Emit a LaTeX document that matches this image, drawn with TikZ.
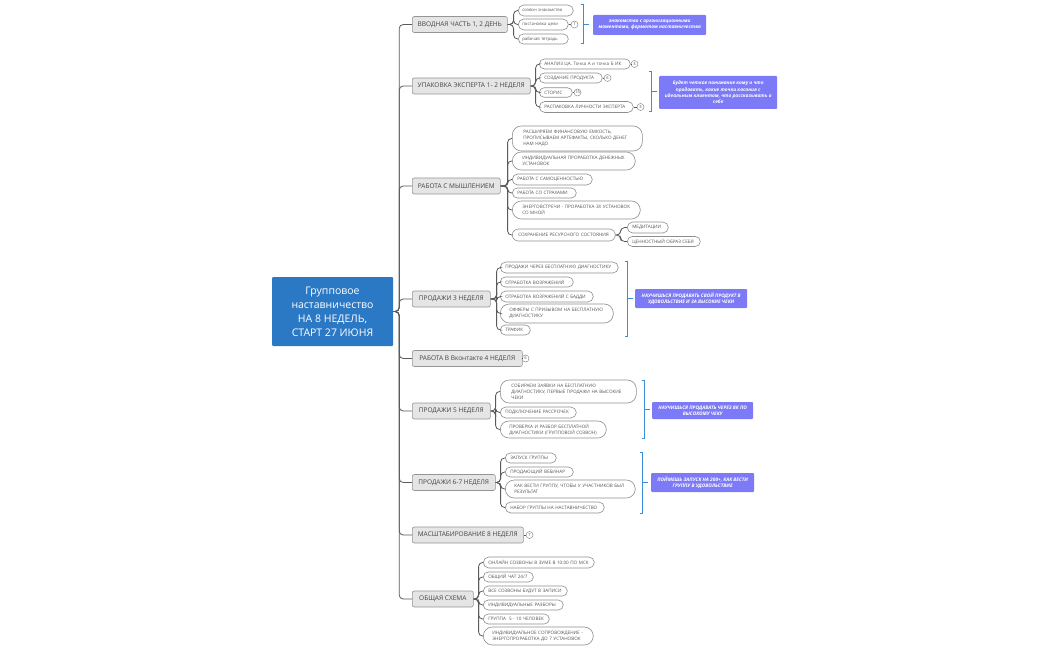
\documentclass[tikz,border=0pt]{standalone}
\usepackage{fontspec}
\setmainfont{Open Sans}
\definecolor{rootc}{HTML}{2B78C5}
\definecolor{topfill}{HTML}{E5E5E5}
\definecolor{topdraw}{HTML}{959595}
\definecolor{subdraw}{HTML}{8E8E8E}
\definecolor{linec}{HTML}{5A5A5A}
\definecolor{txtc}{HTML}{444444}
\definecolor{subtxt}{HTML}{555555}
\definecolor{brkc}{HTML}{3B8FD8}
\definecolor{notec}{HTML}{7C7AF6}
\newcommand\mysub[7]{%
  \pgfmathsetmacro\mytw{#3-#2-2*#6}%
  \pgfmathsetmacro\myrc{min(#5/2,9)}%
  \node[sub, anchor=west, inner xsep=#6pt, text width=\mytw pt, minimum height=#5pt, rounded corners=\myrc pt] (#1) at (#2,#4) {#7};}
\newcommand\mytopic[5]{%
  \node[topic, anchor=west, minimum width=#3pt] (#1) at (#2,#4) {#5};}
\newcommand\mybrk[4]{% x, ytop, ybottom, ymid
  \draw[brk] (#1-2.5,#2) -- (#1,#2) -- (#1,#3) -- (#1-2.5,#3);
  \draw[brk] (#1,#4) -- (#1+6,#4);}
\begin{document}
\begin{tikzpicture}[x=1pt,y=-1pt,
  conn/.style={draw=linec, line width=0.8pt, rounded corners=4pt},
  root/.style={fill=rootc, text=white, minimum width=121pt, minimum height=69pt, inner sep=0pt, align=center, rounded corners=1pt, font=\fontsize{10.5}{14}\selectfont},
  topic/.style={draw=topdraw, fill=topfill, line width=0.6pt, rounded corners=2pt, minimum height=16pt, inner xsep=2pt, inner ysep=0pt, text=txtc, font=\fontsize{6.5}{7.5}\selectfont},
  sub/.style={draw=subdraw, fill=white, line width=0.6pt, inner ysep=0pt, align=left, text=subtxt, font=\fontsize{4.6}{6}\selectfont},
  num/.style={circle, draw=subdraw, fill=white, line width=0.5pt, inner sep=0pt, minimum size=7pt, text=txtc, font=\fontsize{4}{4}\selectfont},
  brk/.style={draw=brkc, line width=1pt},
  note/.style={fill=notec, text=white, anchor=west, rounded corners=1pt, inner sep=1pt, align=center, font=\fontsize{4.8}{6.3}\selectfont\bfseries\itshape}
]
\useasboundingbox (0,0) rectangle (1050,650);
\fill[white] (0,0) rectangle (1050,650);

% root
\node[root] (root) at (332.5,311.5) {Групповое\\наставничество\\НА 8 НЕДЕЛЬ,\\СТАРТ 27 ИЮНЯ};

% topics
\mytopic{t1}{412}{95}{24.5}{ВВОДНАЯ ЧАСТЬ 1, 2 ДЕНЬ}
\mytopic{t2}{412}{118}{86}{УПАКОВКА ЭКСПЕРТА 1- 2 НЕДЕЛЯ}
\mytopic{t3}{412}{88}{186}{РАБОТА С МЫШЛЕНИЕМ}
\mytopic{t4}{412}{78}{299}{ПРОДАЖИ 3 НЕДЕЛЯ}
\mytopic{t5}{412}{110}{358.5}{РАБОТА В Вконтакте 4 НЕДЕЛЯ}
\mytopic{t6}{412}{78}{411}{ПРОДАЖИ 5 НЕДЕЛЯ}
\mytopic{t7}{412}{83}{482.5}{ПРОДАЖИ 6-7 НЕДЕЛЯ}
\mytopic{t8}{412}{111}{535}{МАСШТАБИРОВАНИЕ 8 НЕДЕЛЯ}
\mytopic{t9}{412}{61}{599}{ОБЩАЯ СХЕМА}

\foreach \t in {t1,t2,t3,t4,t5,t6,t7,t8,t9}
  \draw[conn] (root.east) -- ++(6,0) |- (\t.west);

% topic 1
\begin{scope}[sub/.append style={font=\fontsize{4.3}{6}\selectfont}]
\mysub{s11}{518}{573}{10.5}{11}{4}{созвон знакомство}
\mysub{s12}{518}{568}{24.5}{11}{4}{постановка цели}
\mysub{s13}{518}{568}{39}{10}{4}{рабочая тетрадь}
\end{scope}
\foreach \s in {s11,s12,s13} \draw[conn] (t1.east) -- ++(6,0) |- (\s.west);
\node[num] (c12) at (574.5,24.5) {1};
\draw[conn] (s12.east) -- (c12.west);
\mybrk{583}{5}{44}{24.5}
\node[note, minimum width=113pt, minimum height=20pt] (n1) at (593,25) {знакомство с организационными\\моментами, форматом наставничества};

% topic 2
\mysub{s21}{539}{630}{64}{10}{5}{АНАЛИЗ ЦА. Точка А и точка Б ИК}
\mysub{s22}{539}{602}{78}{10}{5}{СОЗДАНИЕ ПРОДУКТА}
\mysub{s23}{539}{572}{92.5}{9.5}{5}{СТОРИС}
\mysub{s24}{539}{633}{107}{11}{5}{РАСПАКОВКА ЛИЧНОСТИ ЭКСПЕРТА}
\foreach \s in {s21,s22,s23,s24} \draw[conn] (t2.east) -- ++(5,0) |- (\s.west);
\node[num] (c21) at (634.5,64) {3};
\node[num] (c22) at (607.5,78) {6};
\node[num] (c23) at (577.5,92.5) {15};
\node[num] (c24) at (640.5,107) {3};
\draw[conn] (s21.east) -- (c21.west);
\draw[conn] (s22.east) -- (c22.west);
\draw[conn] (s23.east) -- (c23.west);
\draw[conn] (s24.east) -- (c24.west);
\mybrk{651}{72}{112}{92}
\node[note, minimum width=118pt, minimum height=33pt] (n2) at (659,92.5) {Будет четкое понимание кому и что\\продавать, какие точки касания с\\идеальным клиентом, что рассказывать о\\себе};

% topic 3
\mysub{s31}{512}{642}{138.5}{25}{11}{РАСШИРЯЕМ ФИНАНСОВУЮ ЕМКОСТЬ,\\ПРОПИСЫВАЕМ АРТЕФАКТЫ, СКОЛЬКО ДЕНЕГ\\НАМ НАДО}
\mysub{s32}{512}{635}{161}{18}{10}{ИНДИВИДУАЛЬНАЯ ПРОРАБОТКА ДЕНЕЖНЫХ\\УСТАНОВОК}
\mysub{s33}{512}{592}{179.5}{11}{5}{РАБОТА С САМОЦЕННОСТЬЮ}
\mysub{s34}{512}{576}{193}{10}{5}{РАБОТА СО СТРАХАМИ}
\mysub{s35}{512}{640}{210}{18}{10}{ЭНЕРГОВСТРЕЧИ - ПРОРАБОТКА 3Х УСТАНОВОК\\СО МНОЙ}
\mysub{s36}{512}{615}{235}{12}{6}{СОХРАНЕНИЕ РЕСУРСНОГО СОСТОЯНИЯ}
\foreach \s in {s31,s32,s33,s34,s35,s36} \draw[conn] (t3.east) -- ++(7,0) |- (\s.west);
\mysub{s361}{627}{668}{227.5}{11}{5}{МЕДИТАЦИИ}
\mysub{s362}{627}{700}{241.5}{10}{5}{ЦЕННОСТНЫЙ ОБРАЗ СЕБЯ}
\foreach \s in {s361,s362} \draw[conn] (s36.east) -- ++(5,0) |- (\s.west);

% topic 4
\mysub{s41}{500}{618}{267.5}{11}{5}{ПРОДАЖИ ЧЕРЕЗ БЕСПЛАТНУЮ ДИАГНОСТИКУ}
\mysub{s42}{500}{573}{282}{10}{5}{ОТРАБОТКА ВОЗРАЖЕНИЙ}
\mysub{s43}{500}{593}{296.5}{11}{5}{ОТРАБОТКА ВОЗРАЖЕНИЙ С БАДДИ}
\mysub{s44}{500}{613}{313.5}{19}{9}{ОФФЕРЫ С ПРИЗЫВОМ НА БЕСПЛАТНУЮ\\ДИАГНОСТИКУ}
\mysub{s45}{500}{530}{330}{10}{5}{ТРАФИК}
\foreach \s in {s41,s42,s43,s44,s45} \draw[conn] (t4.east) -- ++(6,0) |- (\s.west);
\mybrk{627}{261}{336}{298.5}
\node[note, minimum width=112pt, minimum height=19pt] (n4) at (635,298.5) {НАУЧИШЬСЯ ПРОДАВАТЬ СВОЙ ПРОДУКТ В\\УДОВОЛЬСТВИЕ И ЗА ВЫСОКИЕ ЧЕКИ};

% topic 5
\node[num] (c5) at (525.5,358.5) {6};
\draw[conn] (t5.east) -- (c5.west);

% topic 6
\mysub{s61}{500}{636}{391.5}{23}{11}{СОБИРАЕМ ЗАЯВКИ НА БЕСПЛАТНУЮ\\ДИАГНОСТИКУ, ПЕРВЫЕ ПРОДАЖИ НА ВЫСОКИЕ\\ЧЕКИ}
\mysub{s62}{500}{576}{412.5}{11}{5}{ПОДКЛЮЧЕНИЕ РАССРОЧЕК}
\mysub{s63}{500}{606}{429.5}{17}{9}{ПРОВЕРКА И РАЗБОР БЕСПЛАТНОЙ\\ДИАГНОСТИКИ (ГРУППОВОЙ СОЗВОН)}
\foreach \s in {s61,s62,s63} \draw[conn] (t6.east) -- ++(5,0) |- (\s.west);
\mybrk{644}{380}{438}{409}
\node[note, minimum width=101pt, minimum height=17pt] (n6) at (652,410.5) {НАУЧИШЬСЯ ПРОДАВАТЬ ЧЕРЕЗ ВК ПО\\ВЫСОКОМУ ЧЕКУ};

% topic 7
\mysub{s71}{505}{556}{458}{10}{5}{ЗАПУСК ГРУППЫ}
\mysub{s72}{505}{573}{472}{10}{5}{ПРОДАЮЩИЙ ВЕБИНАР}
\mysub{s73}{505}{635}{489}{18}{9}{КАК ВЕСТИ ГРУППУ, ЧТОБЫ У УЧАСТНИКОВ БЫЛ\\РЕЗУЛЬТАТ}
\mysub{s74}{505}{604}{507.5}{11}{5}{НАБОР ГРУППЫ НА НАСТАВНИЧЕСТВО}
\foreach \s in {s71,s72,s73,s74} \draw[conn] (t7.east) -- ++(5,0) |- (\s.west);
\mybrk{642}{452}{513}{482.5}
\node[note, minimum width=103pt, minimum height=19pt] (n7) at (651,482.5) {ПОЙМЕШЬ ЗАПУСК НА 200+, КАК ВЕСТИ\\ГРУППУ В УДОВОЛЬСТВИЕ};

% topic 8
\node[num] (c8) at (529.5,535) {7};
\draw[conn] (t8.east) -- (c8.west);

% topic 9
\mysub{s91}{483}{594}{562.5}{11}{5}{ОНЛАЙН СОЗВОНЫ В ЗУМЕ В 10:00 ПО МСК}
\mysub{s92}{483}{533}{577}{10}{5}{ОБЩИЙ ЧАТ 24/7}
\mysub{s93}{483}{567}{591}{10}{5}{ВСЕ СОЗВОНЫ БУДУТ В ЗАПИСИ}
\mysub{s94}{483}{563}{605}{10}{5}{ИНДИВИДУАЛЬНЫЕ РАЗБОРЫ}
\mysub{s95}{483}{549}{619}{10}{5}{ГРУППА\ \ 5 - 10 ЧЕЛОВЕК}
\mysub{s96}{483}{593}{636}{18}{9}{ИНДИВИДУАЛЬНОЕ СОПРОВОЖДЕНИЕ -\\ЭНЕРГОПРОРАБОТКА ДО 7 УСТАНОВОК}
\foreach \s in {s91,s92,s93,s94,s95,s96} \draw[conn] (t9.east) -- ++(5,0) |- (\s.west);
\end{tikzpicture}
\end{document}
